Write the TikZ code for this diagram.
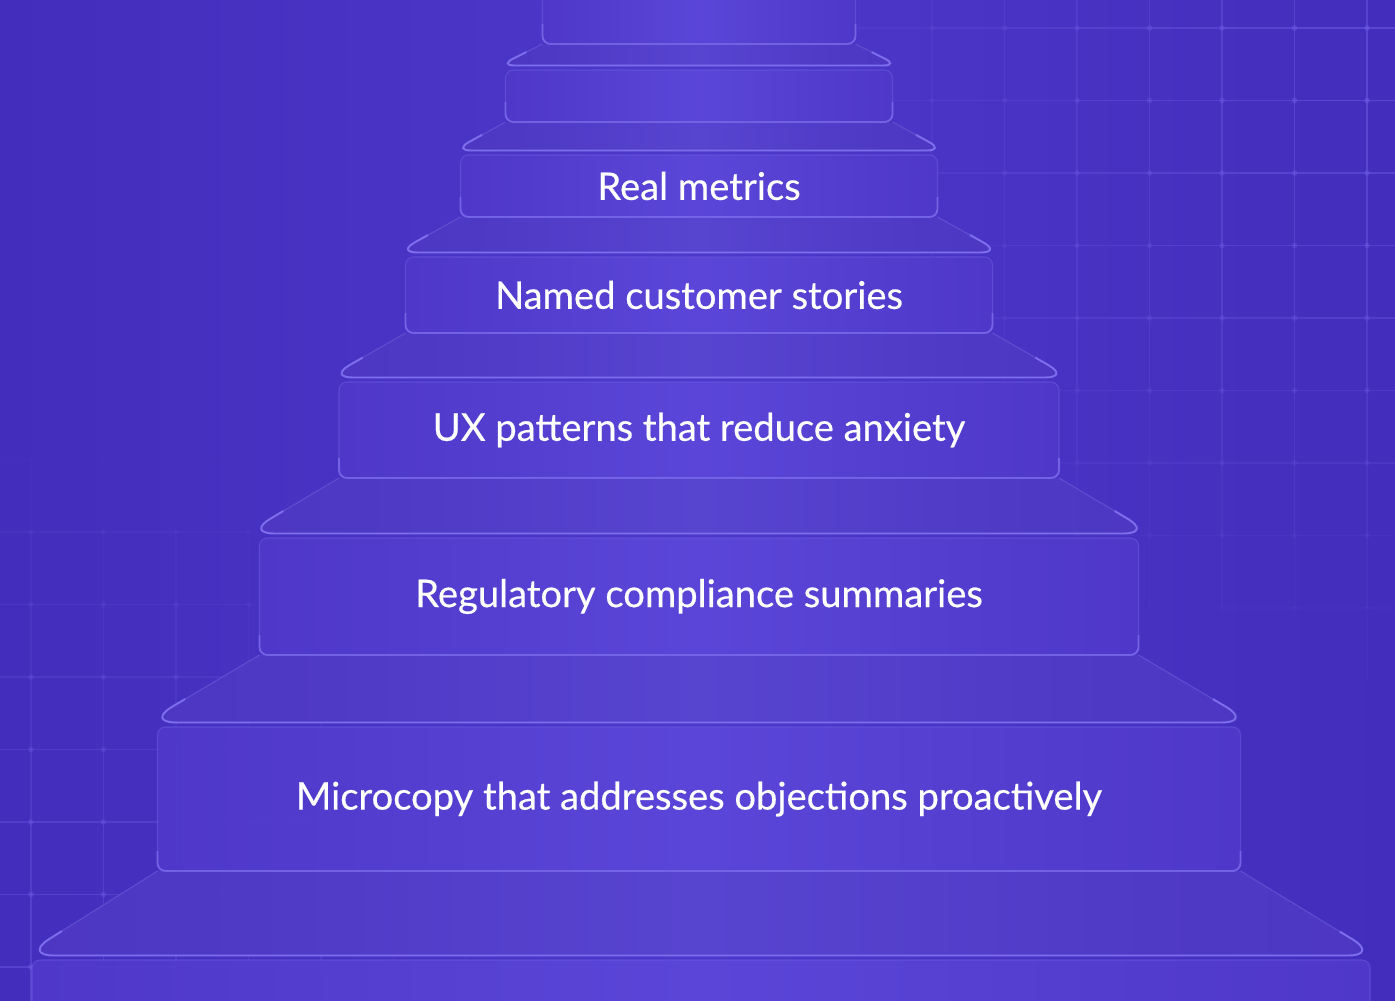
\documentclass[tikz,border=0pt]{standalone}
\usepackage{fontspec}
\setmainfont{Lato}
\usetikzlibrary{calc}
\definecolor{bgside}{HTML}{432DBC}
\definecolor{bgmid}{HTML}{4E38CB}
\definecolor{stepside}{HTML}{4F38CA}
\definecolor{stepmid}{HTML}{5B47D9}
\definecolor{treadside}{HTML}{5039CC}
\definecolor{treadmid}{HTML}{5C48DA}
\definecolor{faintline}{HTML}{6C5CE1}
\definecolor{brightline}{HTML}{7D6EEC}
\definecolor{gridcol}{HTML}{6E5DE4}

\begin{document}
\begin{tikzpicture}
  [ x=0.02cm, y=-0.02cm
  , stepfill/.style={left color=stepside, right color=stepside, middle color=stepmid, fill opacity=0.93}
  , treadfill/.style={left color=treadside, right color=treadside, middle color=treadmid, fill opacity=0.95}
  , riser/.style 2 args={rectangle, rounded corners=0.16cm, stepfill, draw=faintline, draw opacity=0.55,
      line width=0.6pt, minimum width=#1*0.02cm, minimum height=#2*0.02cm, inner sep=0pt, outer sep=0pt,
      text=white, text opacity=1, font=\fontsize{21.7}{26}\selectfont\addfontfeatures{FakeBold=0.4}}
  , slope/.style={draw=faintline, draw opacity=0.7, line width=0.6pt}
  , brightedge/.style={draw=brightline, line width=1.1pt}
  , gridline/.style={draw=gridcol, line width=0.7pt}
  ]
  \useasboundingbox (0,0) rectangle (1395,1000);
  \clip (0,0) rectangle (1395,1000);
  \fill [left color=bgside, right color=bgside, middle color=bgmid] (0,0) rectangle (1395,1000);

  % grid, top right
  \foreach \i in {-1,...,7} {
    \foreach \j in {-1,...,10} {
      \pgfmathsetmacro\gx{1367-72.5*\i}
      \pgfmathsetmacro\gy{28+72.5*\j}
      \pgfmathsetmacro\ga{max(0,1-veclen((\gx-1395)/100,(\gy-60)/100)/6.2)*0.55}
      \draw [gridline, draw opacity=\ga] (\gx,\gy) -- ++(0,72.5) (\gx,\gy) -- ++(-72.5,0);
      \fill [gridcol, fill opacity=\ga] (\gx,\gy) circle (1.6pt);
    }
  }
  % grid, bottom left
  \foreach \i in {-1,...,8} {
    \foreach \j in {-3,...,5} {
      \pgfmathsetmacro\gx{31+72.5*\i}
      \pgfmathsetmacro\gy{677+72.5*\j}
      \pgfmathsetmacro\ga{max(0,1-veclen((\gx-0)/100,(\gy-1000)/100)/6)*0.5}
      \draw [gridline, draw opacity=\ga] (\gx,\gy) -- ++(0,72.5) (\gx,\gy) -- ++(72.5,0);
      \fill [gridcol, fill opacity=\ga] (\gx,\gy) circle (1.6pt);
    }
  }

  % risers, top to bottom
  \node (top0) at (699, 12) [riser={313}{64}] {};
  \node (top1) at (699, 96) [riser={387}{52}] {};
  \node (metrics) at (699, 186) [riser={477}{62}] {Real metrics};
  \node (stories) at (699, 295) [riser={587}{76}] {Named customer stories};
  \node (patterns) at (699, 430) [riser={720}{96}] {UX patterns that reduce anxiety};
  \node (compliance) at (699, 596.5) [riser={879}{117}] {Regulatory compliance summaries};
  \node (microcopy) at (699, 799) [riser={1083}{144}] {Microcopy that addresses objections proactively};
  \node (base) at (701, 1010) [riser={1338}{100}] {};

  % treads between the risers
  \foreach \a/\b/\r/\o in {top0/top1/0.3/6, top1/metrics/0.35/7, metrics/stories/0.42/9, stories/patterns/0.5/11,
                           patterns/compliance/0.58/14, compliance/microcopy/0.62/12, microcopy/base/0.62/9} {
    \coordinate (bl) at ($(\b.north west)+(-\o,-4.5)$);
    \coordinate (br) at ($(\b.north east)+(\o,-4.5)$);
    \fill [treadfill] (\a.south west) [rounded corners=\r cm] -- (bl) -- (br) [sharp corners] -- (\a.south east) -- cycle;
    \draw [slope, rounded corners=\r cm] (\a.south west) -- (bl) -- (br) -- (\a.south east);
    \draw [brightedge, rounded corners=\r cm]
      ($(bl)!\r cm+0.3cm!(\a.south west)$) -- (bl) -- (br) -- ($(br)!\r cm+0.3cm!(\a.south east)$);
  }
  \foreach \s in {top0, top1, metrics, stories, patterns, compliance, microcopy} {
    \draw [brightedge, draw opacity=0.75, rounded corners=0.16cm]
      ($(\s.south west)!0.4cm!(\s.north west)$) -- (\s.south west) -- (\s.south east)
      -- ($(\s.south east)!0.4cm!(\s.north east)$);
  }
\end{tikzpicture}
\end{document}
